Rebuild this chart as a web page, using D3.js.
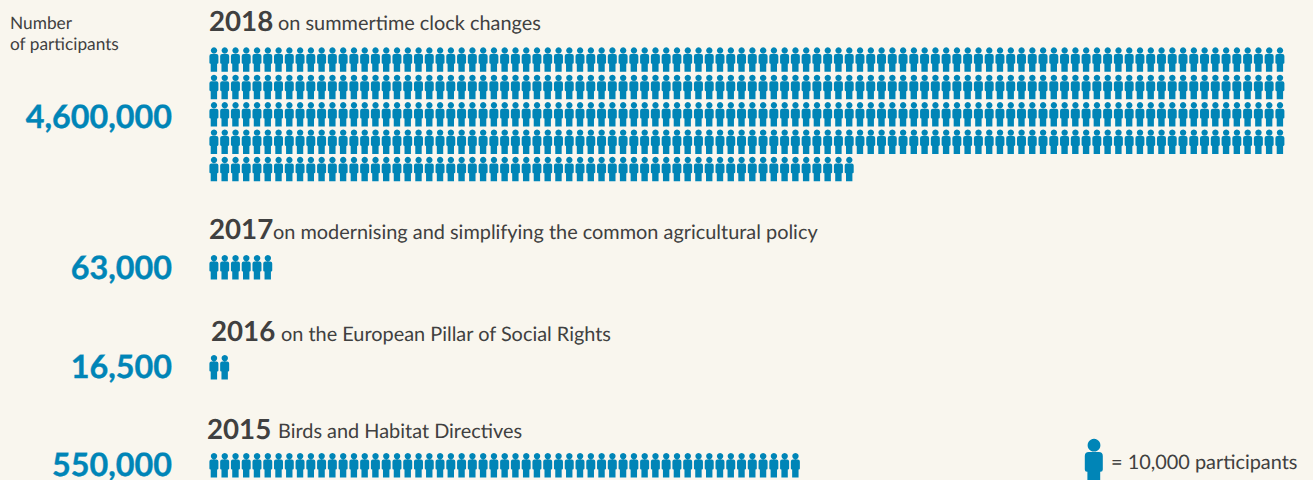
<!DOCTYPE html>
<html><head><meta charset="utf-8">
<script src="https://cdnjs.cloudflare.com/ajax/libs/d3/7.8.5/d3.min.js"></script>
<style>html,body{margin:0;padding:0;background:#f9f6ee;overflow:hidden}svg{display:block}text{font-family:Lato,sans-serif;text-rendering:geometricPrecision}</style>
</head><body><svg id="c" width="1313" height="480"></svg>
<script>
const years = ["2018","2017","2016","2015"];
const topics = ["on summertime clock changes","on modernising and simplifying the common agricultural policy","on the European Pillar of Social Rights","Birds and Habitat Directives"];
const participants = [4600000,63000,16500,550000];
const participantLabels = ["4,600,000","63,000","16,500","550,000"];
const unitValue = 10000, perRow = 100;
const axisTitle = ["Number","of participants"];
const legendLabel = "= 10,000 participants";

const layoutYearX=[209,209,211,207], layoutYearY=[31,239,341,439], layoutTopicX=[278,273,281,278], layoutTopicY=[30,239,341,438];
const layoutValueY=[128,279,378,476], layoutIconY=[47.3,255,355,453];

const BLUE="#0085b7", INK="#404040";
const svg=d3.select("#c");
const col=d3.scaleLinear().domain([0,perRow-1]).range([214,1280]);
const rowStep=d3.scaleLinear().domain([0,4]).range([0,109.5]);

const icon="M0,0a3.2,3.2 0 1 0 .01,0z M-2.4,6.6h4.8a2,2 0 0 1 2,2v6.8a1.1,1.1 0 0 1-1.1,1.1h-.2v8h-6.4v-8h-.2a1.1,1.1 0 0 1-1.1-1.1v-6.8a2,2 0 0 1 2-2z";

axisTitle.forEach((t,i)=>svg.append("text").attr("x",10).attr("y",29+i*21).attr("font-size",17.3).attr("fill",INK).text(t));

years.forEach((y,g)=>{
  svg.append("text").attr("x",layoutYearX[g]).attr("y",layoutYearY[g]).attr("font-size",27.7).attr("font-weight",700).attr("fill",INK).text(y);
  svg.append("text").attr("x",layoutTopicX[g]).attr("y",layoutTopicY[g]).attr("font-size",19.9).attr("fill",INK).text(topics[g]);
  svg.append("text").attr("x",172).attr("y",layoutValueY[g]).attr("text-anchor","end").attr("font-size",32.3).attr("font-weight",700).attr("stroke",BLUE).attr("stroke-width",0.4).attr("fill",BLUE).text(participantLabels[g]);
  const n=Math.round(participants[g]/unitValue);
  svg.append("g").selectAll("path").data(d3.range(n)).join("path")
    .attr("d",icon).attr("fill",BLUE)
    .attr("transform",i=>`translate(${col(i%perRow)},${layoutIconY[g]+rowStep(Math.floor(i/perRow))})`);
});

svg.append("path").attr("d",icon).attr("fill",BLUE).attr("transform","translate(1094,438.8) scale(2)");
svg.append("text").attr("x",1111).attr("y",469).attr("font-size",19.9).attr("fill",INK).text(legendLabel);
</script></body></html>
